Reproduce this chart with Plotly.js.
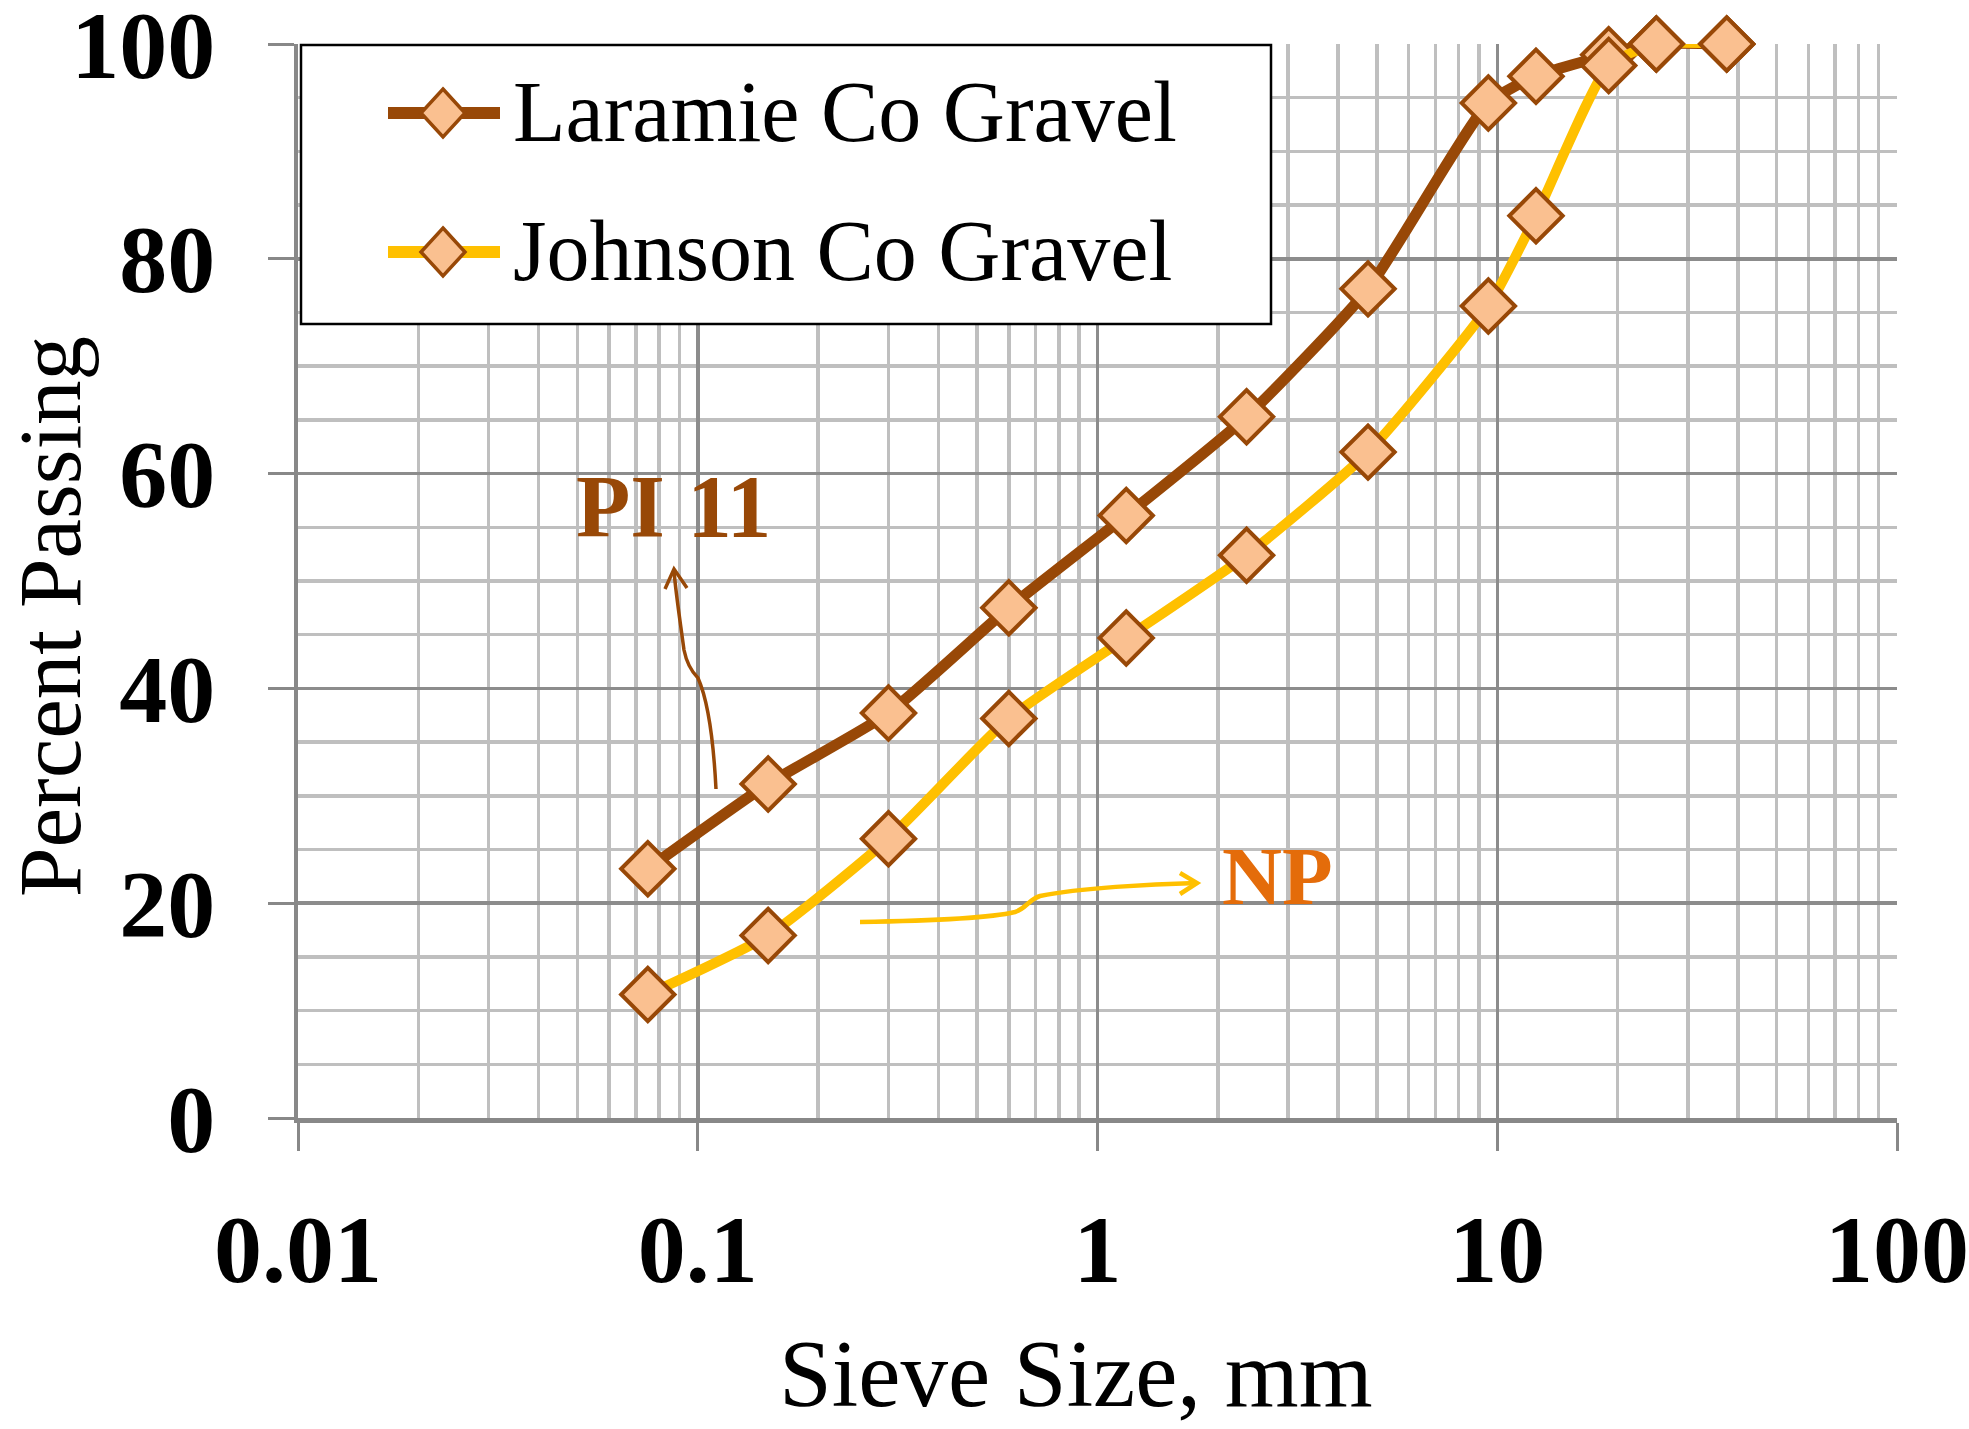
<!DOCTYPE html>
<html>
<head>
<meta charset="utf-8">
<script src="https://cdn.plot.ly/plotly-3.0.1.min.js"></script>
<style>
  html, body { margin: 0; padding: 0; background: #ffffff; }
  #chart { width: 1969px; height: 1429px; }
</style>
</head>
<body>
<div id="chart"></div>
<script>
// ---- data ----
const sieveSizes = [0.075, 0.15, 0.3, 0.6, 1.18, 2.36, 4.75, 9.5, 12.5, 19, 25, 37.5];
const laramiePassing = [23.2, 31.1, 37.7, 47.5, 56.1, 65.3, 77.2, 94.5, 97.0, 99.0, 100, 100];
const johnsonPassing = [11.5, 17.0, 26.0, 37.2, 44.7, 52.4, 62.0, 75.6, 84.0, 98.0, 100, 100];
const seriesNames = ['Laramie Co Gravel', 'Johnson Co Gravel'];
const xTickVals = [0.01, 0.1, 1, 10, 100];
const xTickText = ['0.01', '0.1', '1', '10', '100'];
const yTickVals = [0, 20, 40, 60, 80, 100];

// ---- layout geometry helpers (page pixels -> paper coords) ----
const W = 1969, H = 1429;
const M = { l: 298, r: 72, t: 44, b: 311 };
const PW = W - M.l - M.r, PH = H - M.t - M.b;
const px2x = p => (p - M.l) / PW;
const py2y = p => (H - M.b - p) / PH;
function pathPx(cmds) {
  return cmds.map(c => {
    const pts = [];
    for (let i = 1; i < c.length; i += 2) {
      pts.push(px2x(c[i]).toFixed(5) + ',' + py2y(c[i + 1]).toFixed(5));
    }
    return c[0] + pts.join(' ');
  }).join(' ');
}

const BROWN = '#984807', YELLOW = '#FFC000', FILL = '#FAC090', NPCOL = '#E46C0A';
const SERIF = '"Liberation Serif", "Times New Roman", serif';
const seriesColors = [BROWN, YELLOW];
const seriesWidths = [11, 10];

const markerStyle = { symbol: 'diamond', size: 41, color: FILL, line: { color: BROWN, width: 4 } };

const traces = [laramiePassing, johnsonPassing].map((vals, i) => ({
  x: sieveSizes, y: vals, name: seriesNames[i],
  type: 'scatter', mode: 'lines+markers', cliponaxis: false,
  line: { color: seriesColors[i], width: seriesWidths[i], shape: 'spline', smoothing: 0.55 },
  marker: markerStyle
}));

// ---- legend drawn as a box (shapes + annotations) to match the large symbols ----
const legendBox = { x0: 301, y0: 45, x1: 1271, y1: 324 };
const legendRowsY = [113, 252];
const legendShapes = [
  { type: 'rect', xref: 'paper', yref: 'paper', layer: 'above',
    x0: px2x(legendBox.x0), x1: px2x(legendBox.x1), y0: py2y(legendBox.y0), y1: py2y(legendBox.y1),
    fillcolor: '#ffffff', line: { color: '#000000', width: 2.5 } }
];
const legendAnn = [];
legendRowsY.forEach((ry, i) => {
  legendShapes.push({ type: 'line', xref: 'paper', yref: 'paper', layer: 'above',
    x0: px2x(388), x1: px2x(500), y0: py2y(ry), y1: py2y(ry),
    line: { color: seriesColors[i], width: 12 } });
  legendShapes.push({ type: 'path', xref: 'paper', yref: 'paper', layer: 'above',
    path: pathPx([['M', 443, ry - 24], ['L', 465, ry], ['L', 443, ry + 24], ['L', 421, ry], ['Z']]),
    fillcolor: FILL, line: { color: BROWN, width: 3.5 } });
  legendAnn.push({ text: seriesNames[i], xref: 'paper', yref: 'paper',
    x: px2x(511), y: py2y(ry - 1), xanchor: 'left', yanchor: 'middle', showarrow: false,
    font: { family: SERIF, size: 86, color: '#000000' } });
});

const layout = {
  width: W, height: H,
  margin: M,
  paper_bgcolor: '#ffffff', plot_bgcolor: '#ffffff',
  showlegend: false,
  font: { family: SERIF, color: '#000000' },
  xaxis: {
    type: 'log', range: [-2, 2],
    tickmode: 'array', tickvals: xTickVals, ticktext: xTickText,
    ticks: 'outside', ticklen: 28, tickwidth: 3, tickcolor: '#888888',
    ticklabelstandoff: 16, ticklabeloverflow: 'allow',
    tickfont: { family: SERIF, size: 96, color: '#000000', weight: 'bold' },
    showgrid: true, gridcolor: '#8c8c8c', gridwidth: 3.5,
    minor: { dtick: 'D1', showgrid: true, gridcolor: '#bfbfbf', gridwidth: 3.5, ticks: '' },
    showline: true, linecolor: '#888888', linewidth: 4.5,
    zeroline: false, automargin: false, fixedrange: true
  },
  yaxis: {
    range: [0, 100],
    tickmode: 'array', tickvals: yTickVals,
    ticks: 'outside', ticklen: 26, tickwidth: 3, tickcolor: '#888888',
    ticklabelstandoff: 33, ticklabeloverflow: 'allow',
    tickfont: { family: SERIF, size: 96, color: '#000000', weight: 'bold' },
    showgrid: true, gridcolor: '#8c8c8c', gridwidth: 3.5,
    minor: { dtick: 5, showgrid: true, gridcolor: '#bfbfbf', gridwidth: 3.5, ticks: '' },
    showline: true, linecolor: '#888888', linewidth: 4.5,
    zeroline: false, automargin: false, fixedrange: true
  },
  annotations: [
    { text: 'Sieve Size, mm', xref: 'paper', yref: 'paper', x: px2x(1076), y: py2y(1374),
      xanchor: 'center', yanchor: 'middle', showarrow: false,
      font: { family: SERIF, size: 95, color: '#000000' } },
    { text: 'Percent Passing', xref: 'paper', yref: 'paper', x: px2x(50), y: py2y(617),
      xanchor: 'center', yanchor: 'middle', showarrow: false, textangle: -90,
      font: { family: SERIF, size: 89, color: '#000000' } },
    { text: '<b>PI 11</b>', xref: 'paper', yref: 'paper', x: px2x(673), y: py2y(506),
      xanchor: 'center', yanchor: 'middle', showarrow: false,
      font: { family: SERIF, size: 89, color: BROWN } },
    { text: '<b>NP</b>', xref: 'paper', yref: 'paper', x: px2x(1277), y: py2y(876),
      xanchor: 'center', yanchor: 'middle', showarrow: false,
      font: { family: SERIF, size: 83, color: NPCOL } }
  ].concat(legendAnn),
  shapes: [
    { type: 'path', xref: 'paper', yref: 'paper', layer: 'above',
      path: pathPx([['M', 716, 789], ['C', 714, 750, 710, 705, 698, 678], ['C', 690, 670, 686, 660, 684, 650], ['C', 680, 620, 676, 595, 674, 571]]),
      line: { color: BROWN, width: 3.5 } },
    { type: 'path', xref: 'paper', yref: 'paper', layer: 'above',
      path: pathPx([['M', 665, 589], ['L', 674, 569], ['L', 687, 588]]),
      line: { color: BROWN, width: 3.5 } },
    { type: 'path', xref: 'paper', yref: 'paper', layer: 'above',
      path: pathPx([['M', 860, 922], ['C', 920, 921, 990, 918, 1015, 912], ['C', 1027, 908, 1028, 900, 1040, 896], ['C', 1080, 888, 1150, 884, 1196, 883]]),
      line: { color: YELLOW, width: 4.5 } },
    { type: 'path', xref: 'paper', yref: 'paper', layer: 'above',
      path: pathPx([['M', 1180, 873], ['L', 1197, 883], ['L', 1180, 894]]),
      line: { color: YELLOW, width: 4.5 } }
  ].concat(legendShapes)
};

Plotly.newPlot('chart', traces, layout, { staticPlot: true, displayModeBar: false });
</script>
</body>
</html>
